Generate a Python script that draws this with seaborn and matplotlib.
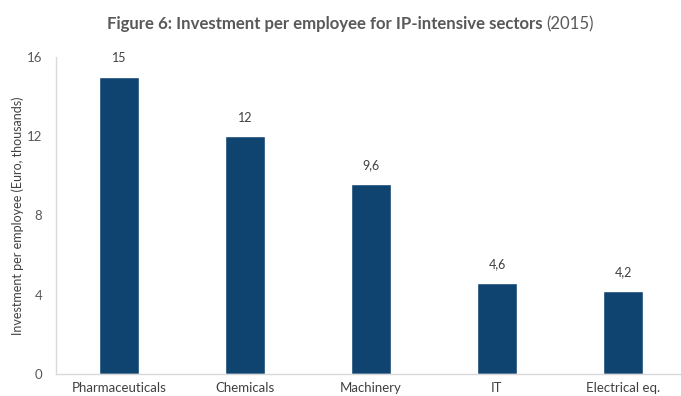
import seaborn as sns
import matplotlib.pyplot as plt
import pandas as pd

# values
sectors = ["Pharmaceuticals", "Chemicals", "Machinery", "IT", "Electrical eq."]
investment = [15, 12, 9.6, 4.6, 4.2]
value_labels = ["15", "12", "9,6", "4,6", "4,2"]
y_ticks = [0, 4, 8, 12, 16]

bar_color = "#0f4470"
text_color = "#595959"

sns.set_theme(style="white")
plt.rcParams['font.family'] = ['Lato', 'DejaVu Sans']

df = pd.DataFrame({"sector": sectors, "investment": investment})

fig = plt.figure(figsize=(6.81, 3.96), dpi=100)
ax = fig.add_axes([56 / 681, 22 / 396, 630 / 681, 317 / 396])

sns.barplot(data=df, x="sector", y="investment", color=bar_color,
            width=0.32, saturation=1, ax=ax)

# labels above the bars
for i, (v, lab) in enumerate(zip(investment, value_labels)):
    ax.annotate(lab, (i, v), xytext=(0, 9), textcoords="offset points",
                ha="center", va="bottom", fontsize=9, color="#404040")

ax.set_xlim(-0.5, 4.5)
ax.set_ylim(0, 16)
ax.set_yticks(y_ticks)
ax.set_xlabel("")
ax.set_ylabel("Investment per employee (Euro, thousands)", fontsize=9,
              color="#404040", labelpad=2)
ax.tick_params(axis="y", length=0, labelsize=9.5, labelcolor=text_color, pad=10)
ax.tick_params(axis="x", length=0, labelsize=9.5, labelcolor="#404040", pad=5.5)

sns.despine(ax=ax, top=True, right=True)
for side in ["left", "bottom"]:
    ax.spines[side].set_color("#d9d9d9")
    ax.spines[side].set_linewidth(1)

title = fig.text(107 / 681, 1 - 24 / 396,
                 "Figure 6: Investment per employee for IP-intensive sectors",
                 fontsize=12.1, fontweight="bold", color=text_color,
                 ha="left", va="center")
fig.canvas.draw()
bb = title.get_window_extent()
fig.text(bb.x1 / 681 + 4 / 681, 1 - 24 / 396, "(2015)", fontsize=12.1,
         color=text_color, ha="left", va="center")

fig.savefig("out.png", dpi=100)
